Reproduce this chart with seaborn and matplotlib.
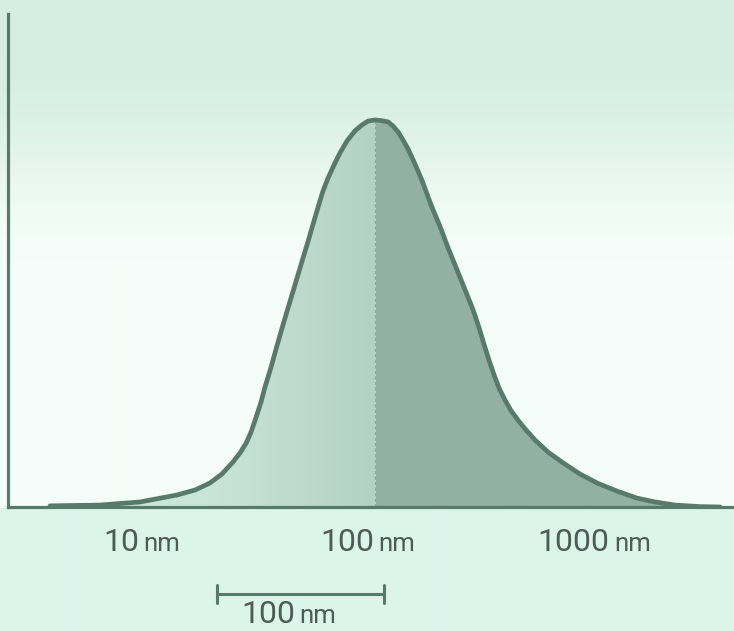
import matplotlib
matplotlib.use("Agg")
import matplotlib.pyplot as plt
from matplotlib.colors import LinearSegmentedColormap, to_rgb
from matplotlib.offsetbox import TextArea, HPacker, AnnotationBbox
import matplotlib.transforms as mtransforms
import seaborn as sns
import numpy as np

# particle size (nm) and relative intensity
size_nm = [3.65, 6.07, 9.12, 13.3, 16.0, 18.6, 21.0, 23.5, 25.3, 26.9, 28.3, 29.7, 31.3,
           32.6, 34.7, 36.8, 39.5, 42.0, 45.2, 48.0, 50.6, 53.2, 56.0, 58.9, 62.0, 65.9,
           70.0, 75.2, 81.6, 87.5, 93.1, 100,
           107.4, 114.2, 120.2, 126.5, 133.0, 140.0, 147.3, 154.9, 163.0, 177.0,
           194.1, 210.6, 230.8, 250.2, 271.6, 288.6, 303.6, 319.4, 336.3, 353.8,
           376.0, 399.6, 429.5, 465.6, 510.5, 582.1, 679.2, 807.4, 960.0, 1177,
           1442, 1733, 2123, 2742, 3365]
density = [0.003, 0.005, 0.013, 0.031, 0.044, 0.062, 0.085, 0.116, 0.140, 0.165, 0.194, 0.230, 0.271,
           0.310, 0.362, 0.416, 0.478, 0.530, 0.592, 0.643, 0.687, 0.731, 0.775, 0.817, 0.850, 0.884,
           0.915, 0.946, 0.972, 0.987, 0.997, 1.0,
           0.998, 0.995, 0.984, 0.969, 0.948, 0.925, 0.897, 0.868, 0.837, 0.780,
           0.724, 0.669, 0.612, 0.561, 0.509, 0.463, 0.420, 0.379, 0.341, 0.307,
           0.276, 0.249, 0.224, 0.199, 0.173, 0.142, 0.114, 0.085, 0.062, 0.041,
           0.023, 0.013, 0.005, 0.001, 0.0]
median_nm = 100

tick_values = [10, 100, 1000]
tick_numbers = ["10", "100", "1000"]
unit = "nm"

# scale bar under the axis
bar_nm = [20, 110]
bar_number = "100"

line_col = "#587a6d"
text_col = "#4d5c57"
right_fill = "#93b0a4"

sns.set_theme(style="white")
plt.rcParams['font.family'] = ['Roboto', 'DejaVu Sans']

W, H = 734, 631
fig = plt.figure(figsize=(W / 100, H / 100), dpi=100)
fig.patch.set_facecolor("#dcf5eb")

# soft background: mint at the top, almost white behind the curve, mint below the axis
rows = np.arange(H)
t = np.clip((rows - 60) / 200.0, 0, 1)
t = t * t * (3 - 2 * t)
top_c = np.array(to_rgb("#d5eee3"))
white_c = np.array(to_rgb("#f4fdf9"))
low_c = np.array(to_rgb("#dcf5eb"))
col = top_c[None, :] * (1 - t[:, None]) + white_c[None, :] * t[:, None]
col[rows >= 508] = low_c
bg_img = np.repeat(col[:, None, :], 10, axis=1)
bg = fig.add_axes([0, 0, 1, 1], zorder=0)
bg.axis("off")
bg.imshow(bg_img, aspect="auto", extent=[0, 1, 0, 1], interpolation="bilinear")
bg.set_xlim(0, 1)
bg.set_ylim(0, 1)

ax = fig.add_axes([0.011, 0.1965, 0.989, 0.7815], zorder=1)
ax.patch.set_alpha(0)
ax.set_xscale("log")

size = np.array(size_nm)
dens = np.array(density)
left = size <= median_nm
right = size >= median_nm

# left half: light gradient clipped to the area under the curve
poly_l = ax.fill_between(size[left], dens[left], color="none", lw=0)
grad = np.linspace(0, 1, 200)[None, :] * np.ones((10, 200))
left_cmap = LinearSegmentedColormap.from_list("lf", ["#cde8dc", "#c9e5d9", "#b4d1c5"])
im = ax.imshow(grad, cmap=left_cmap, aspect="auto", extent=[0.05, 0.505, 0, 1],
               transform=ax.transAxes, zorder=1)
im.set_clip_path(poly_l.get_paths()[0], transform=ax.transData)

# right half: flat darker fill
ax.fill_between(size[right], dens[right], color=right_fill, lw=0, zorder=1)

# median divider
ax.plot([median_nm, median_nm], [0, 1.0], ls=(0, (3, 2)), color="#86a89b", lw=0.8, zorder=2)

sns.lineplot(x=size_nm, y=density, ax=ax, color=line_col, lw=3.4, sort=False,
             estimator=None, zorder=3)
ax.lines[-1].set_solid_joinstyle("round")

ax.set_xlim(2.38, 3873)
ax.set_ylim(0, 1.274)
ax.set_xticks([])
ax.set_yticks([])
ax.minorticks_off()
for s in ["top", "right"]:
    ax.spines[s].set_visible(False)
for s in ["left", "bottom"]:
    ax.spines[s].set_color(line_col)
    ax.spines[s].set_linewidth(2.3)


def unit_label(x, yoff, number):
    num = TextArea(number, textprops=dict(fontsize=23, color=text_col, family=['Roboto']))
    nm = TextArea(unit, textprops=dict(fontsize=18.5, color=text_col, family=['Roboto']))
    box = HPacker(children=[num, nm], align="baseline", pad=0, sep=3)
    ab = AnnotationBbox(box, (x, 0), xycoords=("data", "axes fraction"),
                        xybox=(-5, yoff), boxcoords="offset points",
                        box_alignment=(0.5, 1), frameon=False, annotation_clip=False)
    ax.add_artist(ab)


for v, n in zip(tick_values, tick_numbers):
    unit_label(v, -15, n)

# scale bar
trans = mtransforms.blended_transform_factory(ax.transData, ax.transAxes)
ax.plot(bar_nm, [-0.1765, -0.1765], color=line_col, lw=2.2, transform=trans, clip_on=False)
for b in bar_nm:
    ax.plot([b, b], [-0.158, -0.195], color=line_col, lw=2.2, transform=trans, clip_on=False)
unit_label(np.sqrt(bar_nm[0] * bar_nm[1]) * 0.95, -67, bar_number)

fig.savefig("out.png", dpi=100)
